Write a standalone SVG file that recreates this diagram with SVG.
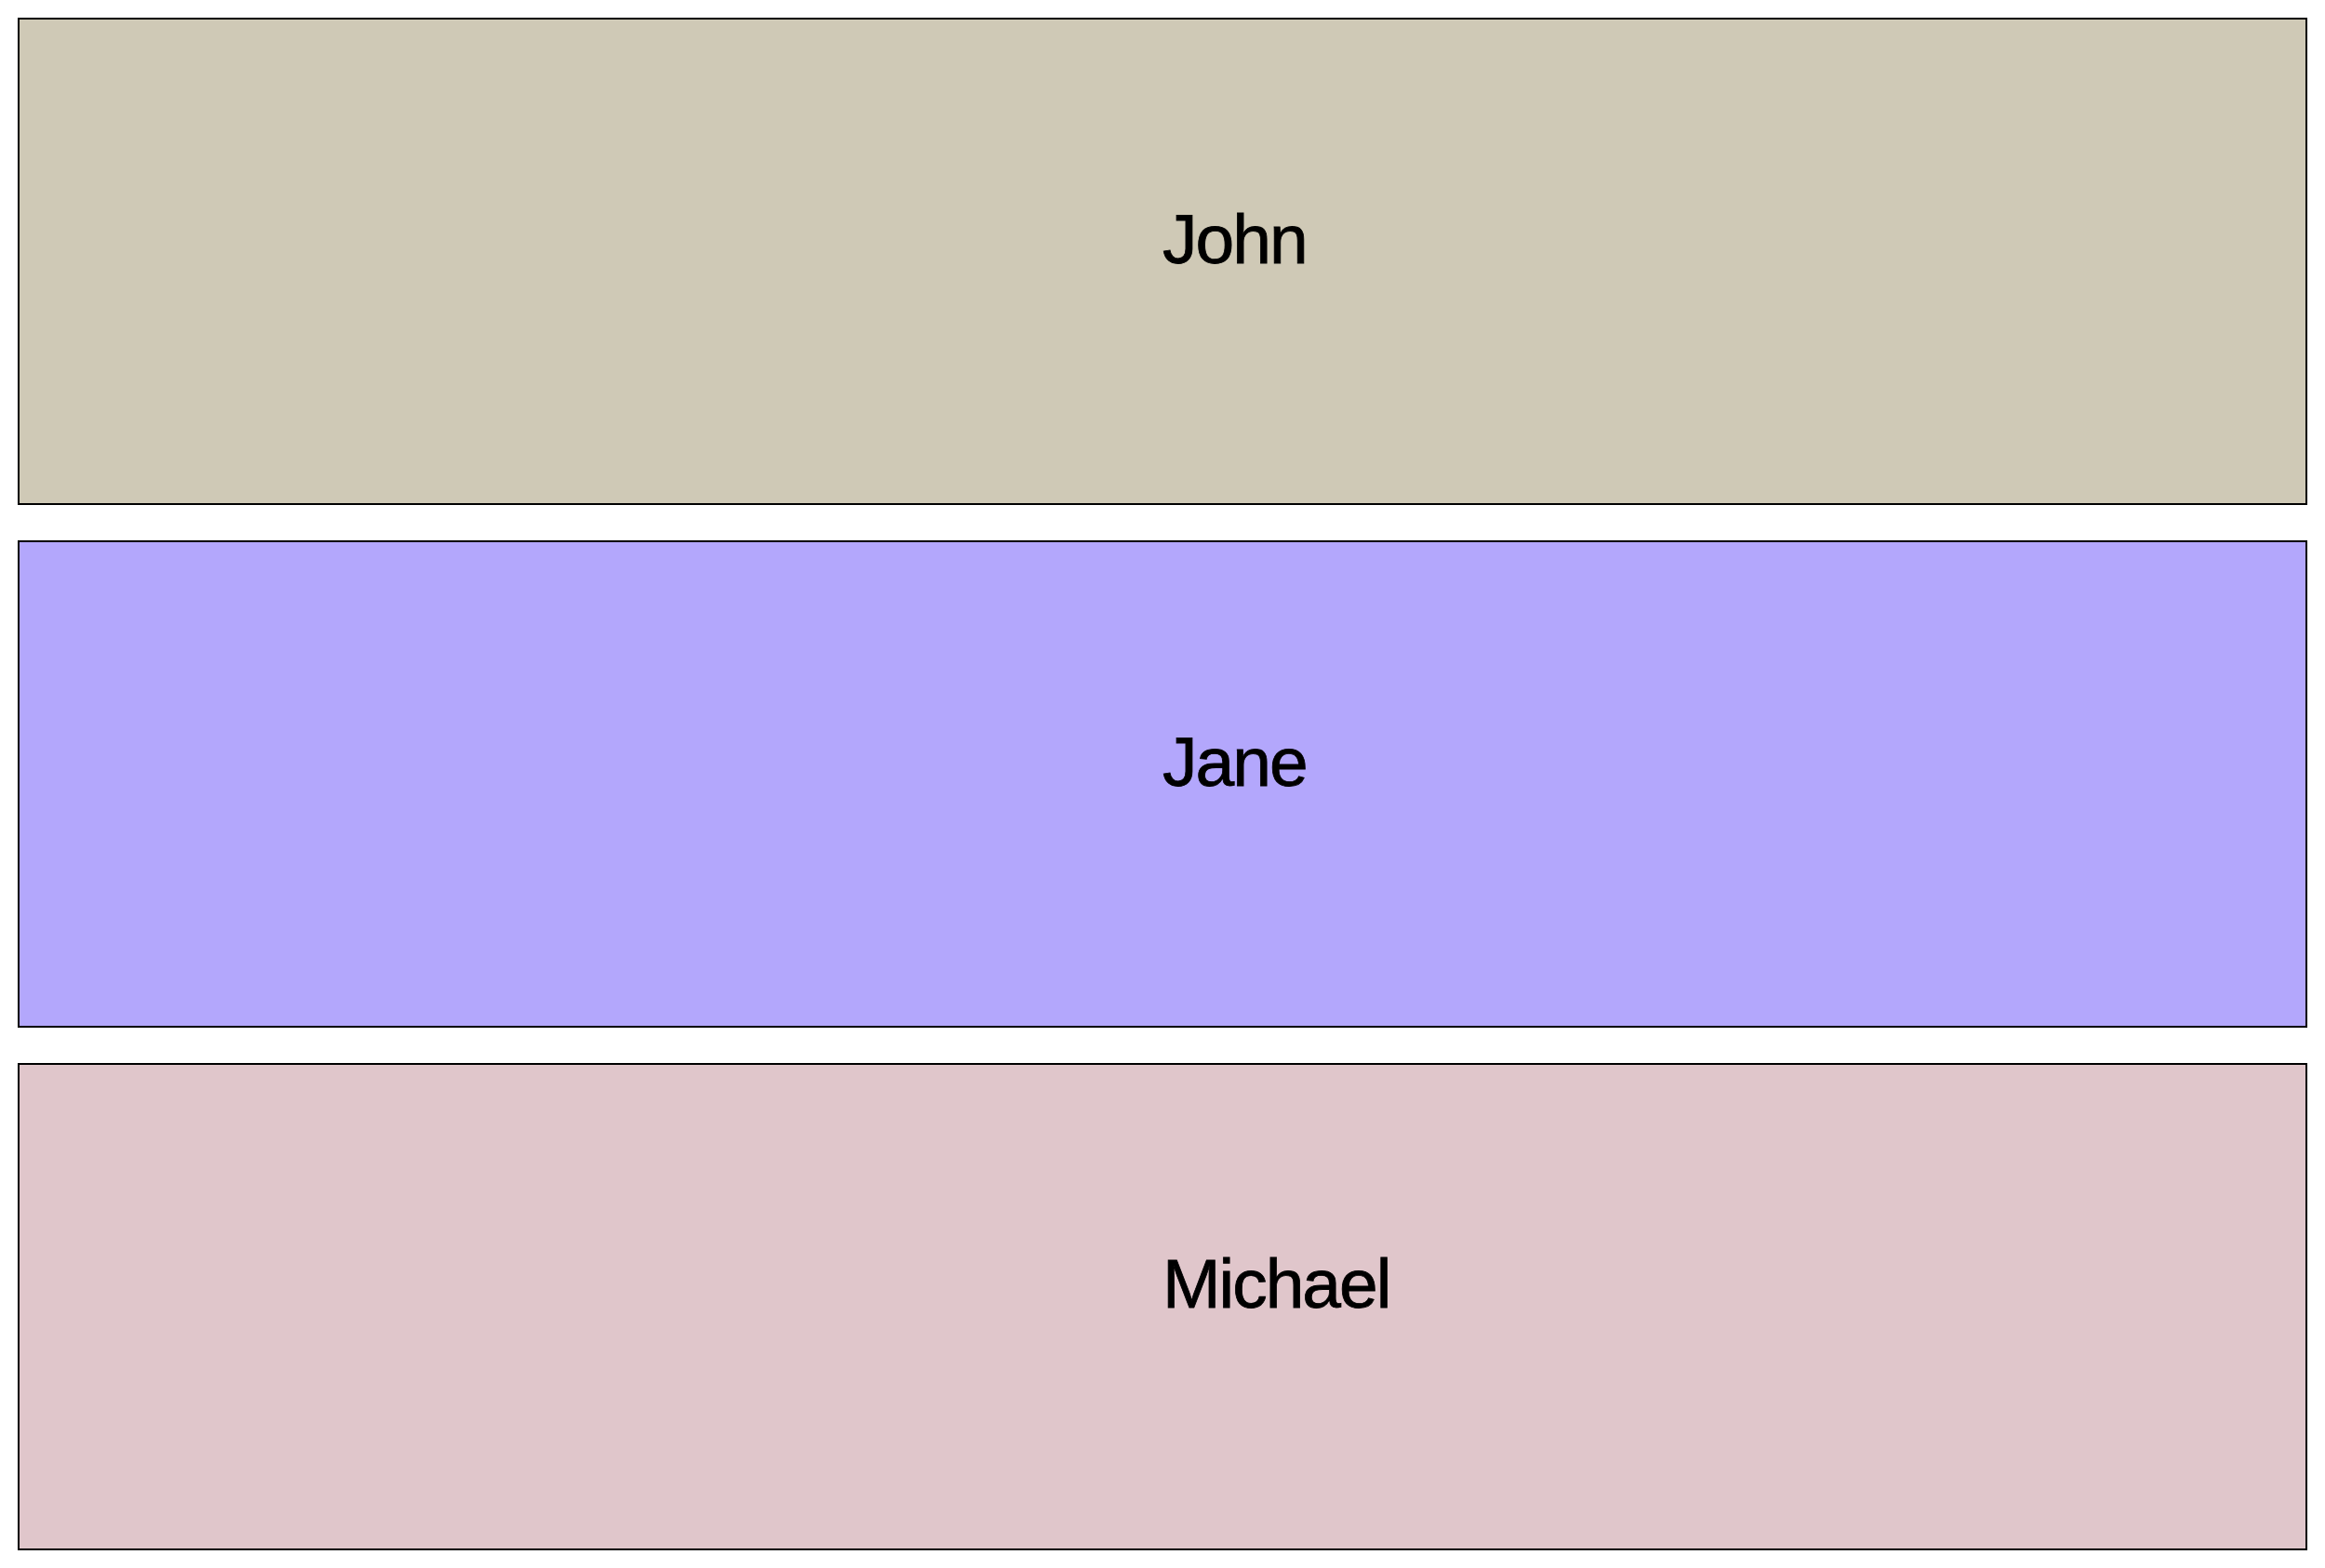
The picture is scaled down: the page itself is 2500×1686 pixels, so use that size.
<svg xmlns="http://www.w3.org/2000/svg" width="2500" height="1686" viewBox="0 0 2500 1686">
<style>
.box{stroke:#000;stroke-width:2}
.lbl{font-family:"Liberation Sans",Arial,sans-serif;font-size:75px;letter-spacing:-2px;fill:#000;stroke:#000;stroke-width:0.8}
</style>
<rect width="2500" height="1686" fill="#fff"/>
<g id="john"><rect class="box" x="20" y="20" width="2460" height="522" fill="#cfc9b6"/><text class="lbl" x="1250" y="283">John</text></g>
<g id="jane"><rect class="box" x="20" y="582" width="2460" height="522" fill="#b3a7fc"/><text class="lbl" x="1250" y="845">Jane</text></g>
<g id="michael"><rect class="box" x="20" y="1144" width="2460" height="522" fill="#e0c6cb"/><text class="lbl" x="1250" y="1406">Michael</text></g>
<g id="connectors"/>
</svg>
